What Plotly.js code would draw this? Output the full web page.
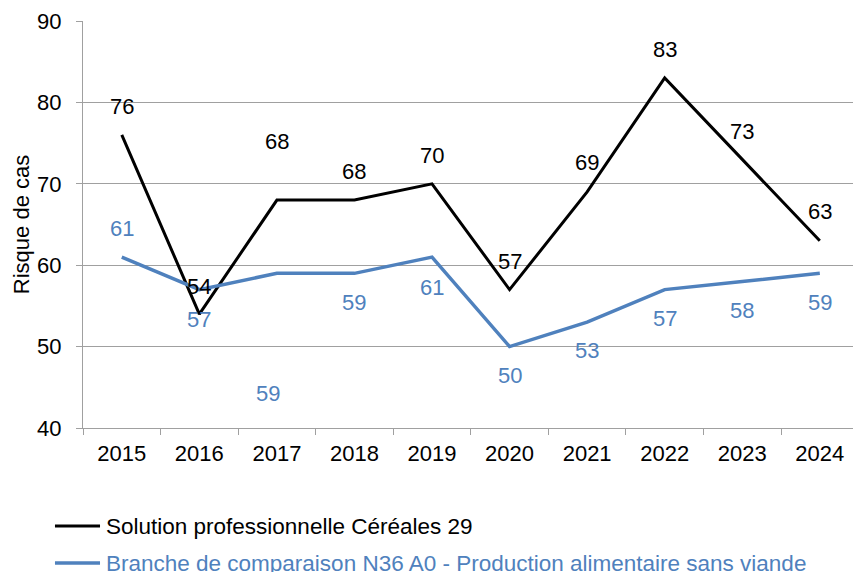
<!DOCTYPE html>
<html>
<head>
<meta charset="utf-8">
<script src="https://cdn.plot.ly/plotly-3.0.1.min.js"></script>
<style>html,body{margin:0;padding:0;background:#fff;}#chart{width:853px;height:572px;}</style>
</head>
<body>
<div id="chart"></div>
<script>
// Data
const years = ['2015','2016','2017','2018','2019','2020','2021','2022','2023','2024'];
const seriesNames = ['Solution professionnelle Céréales 29', 'Branche de comparaison N36 A0 - Production alimentaire sans viande'];
const valuesSolution = [76, 54, 68, 68, 70, 57, 69, 83, 73, 63];
const valuesBranche = [61, 57, 59, 59, 61, 50, 53, 57, 58, 59];
const yTickVals = [40, 50, 60, 70, 80, 90];

// Label pixel offsets (style, not data)
const shiftSolution = [28, 28, 59, 29, 28, 28, 29, 28, 28, 29];
const shiftBranche = [29, -30, -120, -29, -30, -29, -28, -29, -29, -29];
const xshiftBranche = [0, 0, -9, 0, 0, 0, 0, 0, 0, 0];

const BLACK = '#000000';
const BLUE = '#4F81BD';
const FONT = '"Liberation Sans", Arial, sans-serif';
const FS = 22;
const LEGEND_FS = 22.5;

const traces = [
  {x: years, y: valuesSolution, type: 'scatter', mode: 'lines', name: seriesNames[0],
   line: {color: BLACK, width: 3}, hoverinfo: 'none'},
  {x: years, y: valuesBranche, type: 'scatter', mode: 'lines', name: seriesNames[1],
   line: {color: BLUE, width: 3.5}, hoverinfo: 'none'}
];

const annotations = [];
years.forEach((yr, i) => {
  // category axes take the category index for annotation positions
  annotations.push({x: i, y: valuesSolution[i], xref: 'x', yref: 'y', text: String(valuesSolution[i]),
    showarrow: false, yshift: shiftSolution[i], font: {family: FONT, size: FS, color: BLACK}});
  annotations.push({x: i, y: valuesBranche[i], xref: 'x', yref: 'y', text: String(valuesBranche[i]),
    showarrow: false, yshift: shiftBranche[i], xshift: xshiftBranche[i], font: {family: FONT, size: FS, color: BLUE}});
});

// Manual legend
const legendY = [-0.2408, -0.3317];
const legendColors = [BLACK, BLUE];
const shapes = [];
seriesNames.forEach((nm, i) => {
  shapes.push({type: 'line', xref: 'paper', yref: 'paper', x0: -0.0364, x1: 0.0221, y0: legendY[i], y1: legendY[i],
    line: {color: legendColors[i], width: i === 0 ? 3 : 3.5}});
  annotations.push({xref: 'paper', yref: 'paper', x: 0.0273, y: legendY[i], xanchor: 'left', yanchor: 'middle',
    text: nm, showarrow: false, font: {family: FONT, size: LEGEND_FS, color: legendColors[i]}});
});

const layout = {
  width: 853, height: 572,
  margin: {l: 83, r: 0, t: 21, b: 144},
  paper_bgcolor: '#fff', plot_bgcolor: '#fff',
  showlegend: false,
  font: {family: FONT, size: FS, color: '#000'},
  xaxis: {
    type: 'category', range: [-0.5, 9.428], tickson: 'boundaries',
    ticks: 'outside', ticklen: 6, tickcolor: '#a0a0a0', tickwidth: 1,
    showgrid: false, showline: true, linecolor: '#a0a0a0', linewidth: 1,
    tickfont: {family: FONT, size: FS, color: '#000'}, ticklabelstandoff: 6,
    fixedrange: true
  },
  yaxis: {
    range: [40, 90], tickvals: yTickVals, ticktext: yTickVals.map(String),
    ticks: 'outside', ticklen: 6, tickcolor: '#a0a0a0', tickwidth: 1,
    showgrid: true, gridcolor: '#a0a0a0', gridwidth: 1,
    showline: true, linecolor: '#a0a0a0', linewidth: 1, zeroline: false,
    tickfont: {family: FONT, size: FS, color: '#000'}, ticklabelstandoff: 10,
    title: {text: 'Risque de cas', font: {family: FONT, size: FS, color: '#000'}, standoff: 1},
    fixedrange: true
  },
  annotations: annotations,
  shapes: shapes
};

Plotly.newPlot('chart', traces, layout, {displayModeBar: false, staticPlot: true});
</script>
</body>
</html>
